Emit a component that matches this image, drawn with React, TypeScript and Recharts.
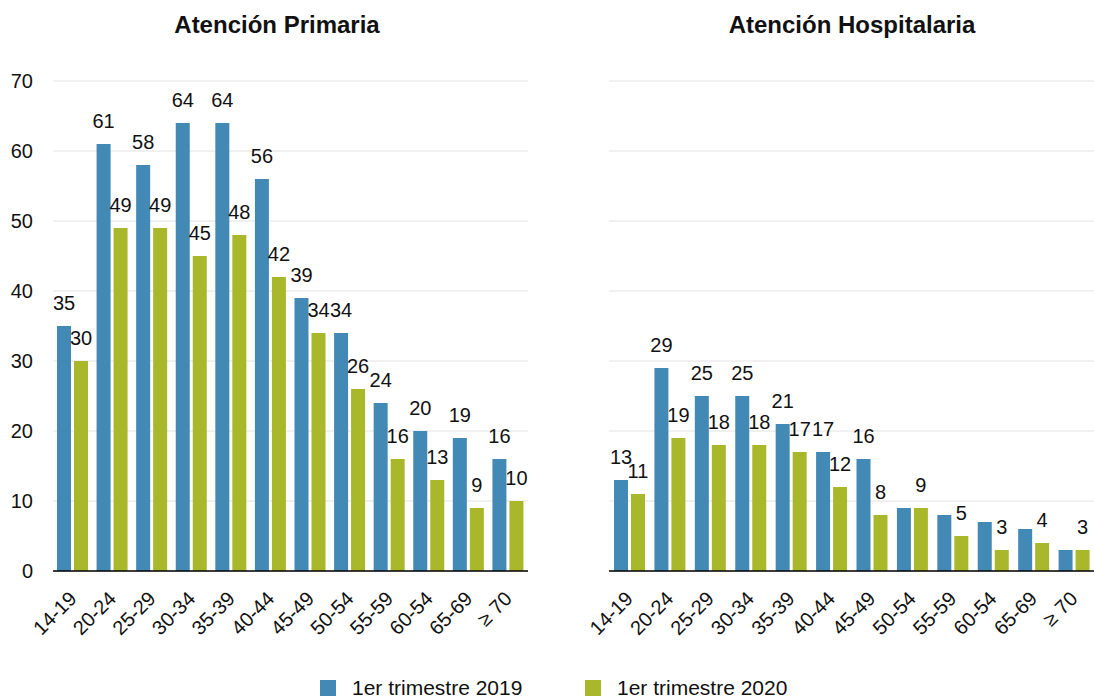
import { BarChart, Bar, XAxis, YAxis, CartesianGrid, LabelList } from "recharts";

const ages = ["14-19", "20-24", "25-29", "30-34", "35-39", "40-44", "45-49", "50-54", "55-59", "60-54", "65-69", "≥ 70"];

const primaria2019 = [35, 61, 58, 64, 64, 56, 39, 34, 24, 20, 19, 16];
const primaria2020 = [30, 49, 49, 45, 48, 42, 34, 26, 16, 13, 9, 10];

const hospital2019 = [13, 29, 25, 25, 21, 17, 16, 9, 8, 7, 6, 3];
const hospital2020 = [11, 19, 18, 18, 17, 12, 8, 9, 5, 3, 4, 3];

// the original drops these value labels (indices) on the hospital 2019 series
const hospital2019HiddenLabels = [7, 8, 9, 10, 11];

const yTicks = [0, 10, 20, 30, 40, 50, 60, 70];

const BLUE = "#4389b6";
const GREEN = "#a9b82a";
const FONT = "'Liberation Sans', Arial, Helvetica, sans-serif";

const rows = (a: number[], b: number[]) =>
  ages.map((age, i) => ({ age, y2019: a[i], y2020: b[i] }));

const AgeTick = (props: any) => {
  const { x, y, payload } = props;
  return (
    <g transform={`translate(${x + 5},${y + 21})`}>
      <text textAnchor="end" transform="rotate(-45)" fontSize={20} fill="#111" fontFamily={FONT}>
        {payload.value}
      </text>
    </g>
  );
};

const makeLabel = (hidden: number[]) => (props: any) => {
  const { x, y, width, value, index } = props;
  if (hidden.includes(index)) return null;
  return (
    <text x={x + width / 2} y={y - 16} textAnchor="middle" fontSize={20} fill="#111" fontFamily={FONT}>
      {value}
    </text>
  );
};

function Panel({ data, showAxis, hidden2019 = [] }: { data: any[]; showAxis: boolean; hidden2019?: number[] }) {
  return (
    <BarChart
      width={showAxis ? 545 : 539}
      height={697}
      data={data}
      margin={{ top: 81, right: showAxis ? 17 : 0, bottom: 66, left: showAxis ? 0 : 54 }}
      barSize={14}
      barGap={3}
    >
      <CartesianGrid vertical={false} stroke="#e2e2e2" />
      <XAxis
        dataKey="age"
        interval={0}
        height={60}
        tickLine={false}
        axisLine={{ stroke: "#000", strokeWidth: 1.5 }}
        tick={<AgeTick />}
      />
      <YAxis
        hide={!showAxis}
        width={53}
        domain={[0, 70]}
        ticks={yTicks}
        tickLine={false}
        axisLine={false}
        tickMargin={14}
        tick={{ fontSize: 20, fill: "#111", fontFamily: FONT }}
      />
      <Bar dataKey="y2019" fill={BLUE} isAnimationActive={false}>
        <LabelList dataKey="y2019" content={makeLabel(hidden2019)} />
      </Bar>
      <Bar dataKey="y2020" fill={GREEN} isAnimationActive={false}>
        <LabelList dataKey="y2020" content={makeLabel([])} />
      </Bar>
    </BarChart>
  );
}

const titleStyle = {
  position: "absolute" as const,
  top: 12,
  textAlign: "center" as const,
  fontSize: 24,
  fontWeight: 700,
  lineHeight: "26px",
  color: "#111",
  fontFamily: FONT,
};

const legendItems = [
  { label: "1er trimestre 2019", color: BLUE, left: 320 },
  { label: "1er trimestre 2020", color: GREEN, left: 585 },
];

export default function App() {
  return (
    <div style={{ position: "absolute", left: 0, top: 0, width: 1094, height: 697, background: "#fff", fontFamily: FONT }}>
      <div style={{ ...titleStyle, left: 0, width: 554 }}>Atención Primaria</div>
      <div style={{ ...titleStyle, left: 610, width: 484 }}>Atención Hospitalaria</div>

      <div style={{ position: "absolute", left: 0, top: 0 }}>
        <Panel data={rows(primaria2019, primaria2020)} showAxis />
      </div>
      <div style={{ position: "absolute", left: 555, top: 0 }}>
        <Panel data={rows(hospital2019, hospital2020)} showAxis={false} hidden2019={hospital2019HiddenLabels} />
      </div>

      {legendItems.map((item) => (
        <div
          key={item.label}
          style={{ position: "absolute", left: item.left, top: 678, display: "flex", alignItems: "center", height: 20 }}
        >
          <span style={{ width: 16, height: 16, background: item.color, display: "inline-block" }} />
          <span style={{ marginLeft: 16, fontSize: 21, color: "#111" }}>{item.label}</span>
        </div>
      ))}
    </div>
  );
}
